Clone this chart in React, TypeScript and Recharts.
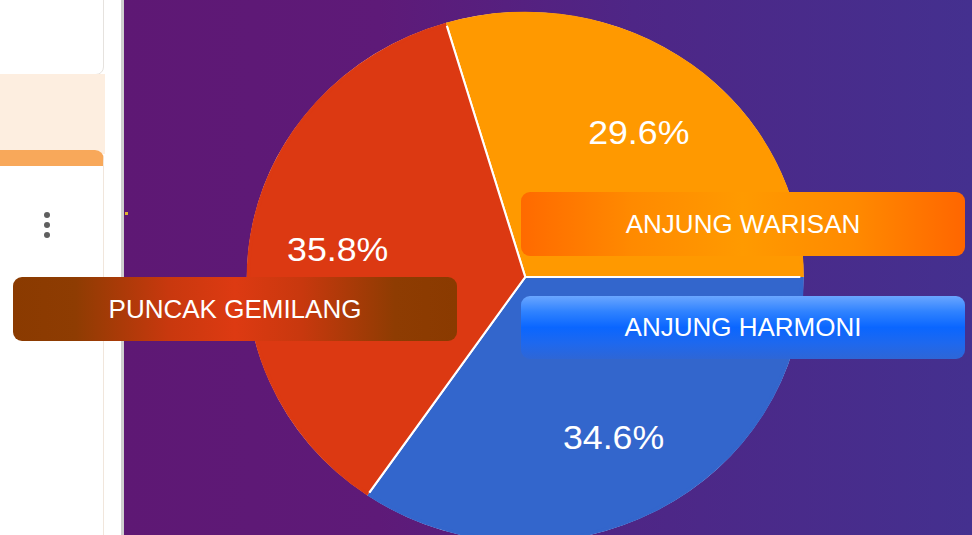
import React from 'react';
import { PieChart, Pie, Cell } from 'recharts';

// slice order follows the pie clockwise from the top-left cut
const blocks = ['ANJUNG WARISAN', 'ANJUNG HARMONI', 'PUNCAK GEMILANG'];
const shares = [29.6, 34.6, 35.8];
const sliceColors = ['#FF9900', '#3366CC', '#DC3912'];

const RADIAN = Math.PI / 180;
const START = 106.56;

const data = blocks.map((name, i) => ({ name, value: shares[i] }));

const renderLabel = (props: any) => {
  const { cx, cy, midAngle, outerRadius, value } = props;
  const r = outerRadius * 0.685;
  const x = cx + r * Math.cos(-midAngle * RADIAN);
  const y = cy + r * Math.sin(-midAngle * RADIAN);
  return (
    <text
      x={x}
      y={y}
      fill="#fff"
      textAnchor="middle"
      dominantBaseline="central"
      fontSize={34}
      fontFamily="'Liberation Sans', Arial, sans-serif"
    >
      {`${Number(value).toFixed(1)}%`}
    </text>
  );
};

const boxBase: React.CSSProperties = {
  position: 'absolute',
  width: 444,
  height: 64,
  borderRadius: 9,
  color: '#fff',
  fontFamily: "'Liberation Sans', Arial, sans-serif",
  fontSize: 26,
  display: 'flex',
  alignItems: 'center',
  justifyContent: 'center',
};

const tagStyles: Record<string, React.CSSProperties> = {
  'ANJUNG WARISAN': {
    left: 521,
    top: 192,
    background: 'linear-gradient(90deg, #FF6A00 0%, #FF8A00 25%, #FF9A00 50%, #FF8A00 75%, #FF6600 100%)',
  },
  'ANJUNG HARMONI': {
    left: 521,
    top: 296,
    height: 63,
    background: 'linear-gradient(180deg, #6AA6FF 0%, #2F82FF 25%, #0A66FF 50%, #1E68EE 75%, #2E66D6 100%)',
  },
  'PUNCAK GEMILANG': {
    left: 13,
    top: 277,
    background: 'linear-gradient(90deg, #8A3A00 0%, #8E3C02 14%, #C8380E 35%, #DD3A12 50%, #C8380E 65%, #8E3C02 86%, #8A3A00 100%)',
  },
};

export default function App() {
  return (
    <div style={{ position: 'absolute', left: 0, top: 0, width: 972, height: 535, overflow: 'hidden', background: '#fff' }}>
      {/* left side panel */}
      <div style={{ position: 'absolute', left: -20, top: -10, width: 122, height: 83, background: '#fff', border: '1px solid #e6e2de', borderRadius: 8 }} />
      <div style={{ position: 'absolute', left: 0, top: 74, width: 105, height: 80, background: '#FDEEE0' }} />
      <div style={{ position: 'absolute', left: -20, top: 150, width: 122, height: 420, background: '#fff', border: '1px solid #f1e6dc', borderTop: '16px solid #F8A85A', borderRadius: '0 9px 0 0' }} />
      {[0, 1, 2].map((i) => (
        <div key={i} style={{ position: 'absolute', left: 44, top: 212 + i * 10, width: 6, height: 6, borderRadius: 3, background: '#5f5f5f' }} />
      ))}
      <div style={{ position: 'absolute', left: 121, top: 0, width: 3, height: 535, background: '#cfcfcf' }} />
      {/* purple backdrop */}
      <div style={{ position: 'absolute', left: 124, top: 0, width: 848, height: 535, background: 'linear-gradient(90deg, #5E1874 0%, #5E1A78 30%, #4E2686 60%, #44308F 100%)' }} />
      <div style={{ position: 'absolute', left: 125, top: 212, width: 3, height: 3, background: '#e0b030' }} />

      {/* the source pie is slightly stretched horizontally */}
      <div style={{ position: 'absolute', left: 0, top: 0, transform: 'scaleX(1.05)', transformOrigin: '520px 272px' }}>
        <PieChart width={972} height={535}>
          <Pie
            data={data}
            dataKey="value"
            nameKey="name"
            cx={520}
            cy={272}
            outerRadius={264}
            startAngle={START}
            endAngle={START - 360}
            stroke="#fff"
            strokeWidth={2}
            label={renderLabel}
            labelLine={false}
            isAnimationActive={false}
          >
            {data.map((d, i) => (
              <Cell key={d.name} fill={sliceColors[i]} />
            ))}
          </Pie>
          {/* rim in slice colours hides the white outer stroke */}
          <Pie
            data={data}
            dataKey="value"
            nameKey="name"
            cx={520}
            cy={272}
            innerRadius={262}
            outerRadius={265.3}
            startAngle={START}
            endAngle={START - 360}
            stroke="none"
            isAnimationActive={false}
          >
            {data.map((d, i) => (
              <Cell key={d.name} fill={sliceColors[i]} />
            ))}
          </Pie>
        </PieChart>
      </div>

      {blocks.map((name) => (
        <div key={name} style={{ ...boxBase, ...tagStyles[name] }}>
          {name}
        </div>
      ))}
    </div>
  );
}
